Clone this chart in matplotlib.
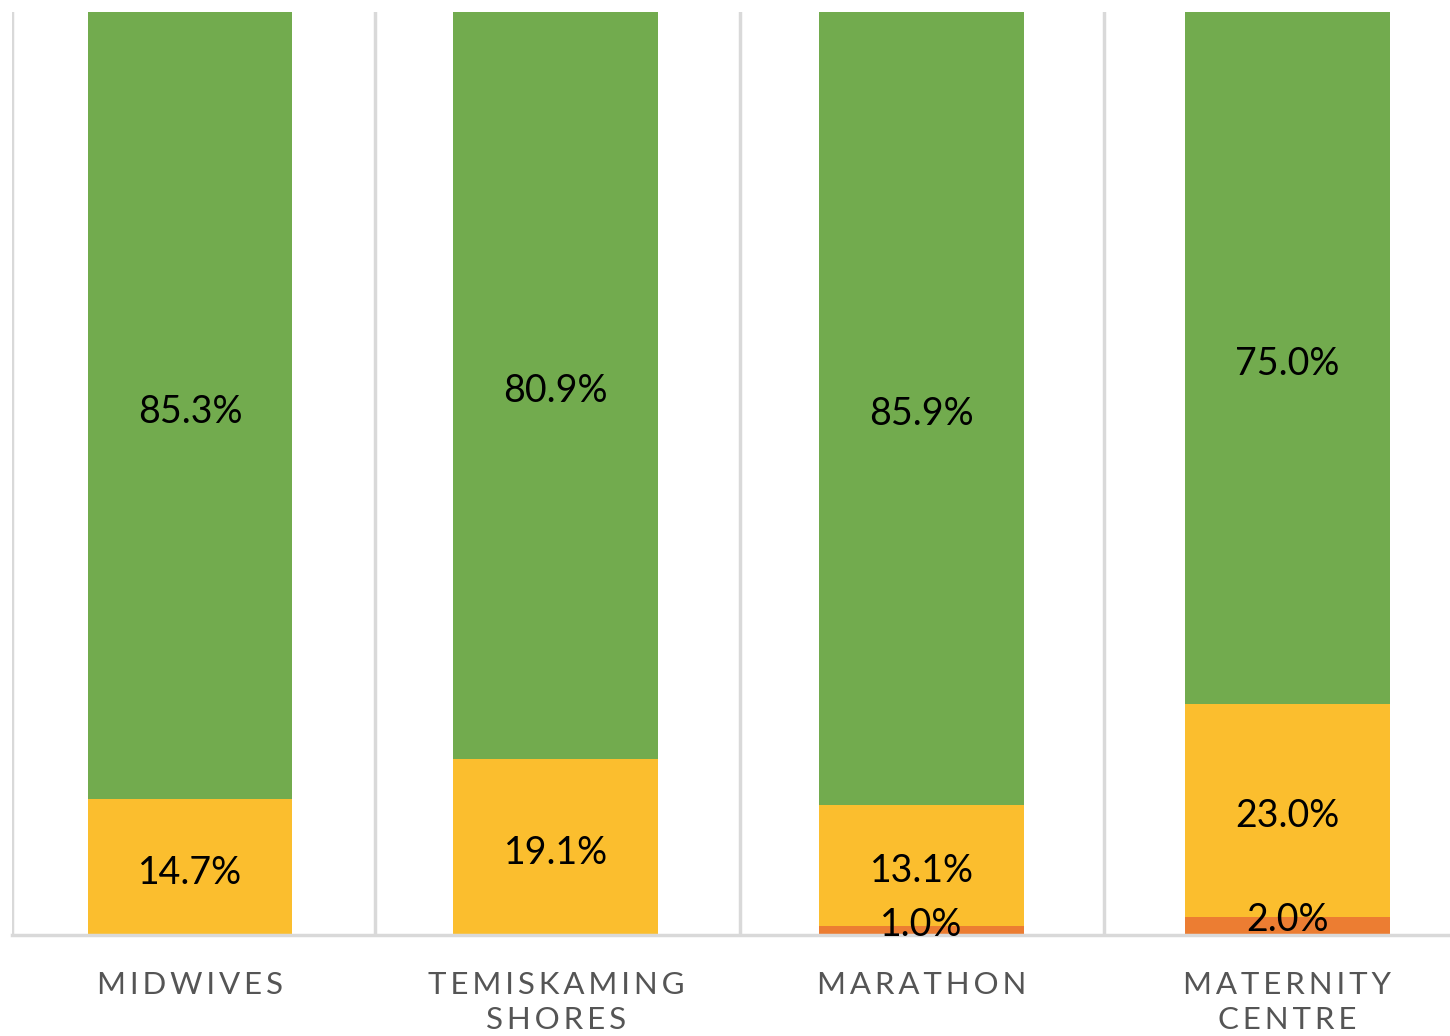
import numpy as np
import matplotlib.pyplot as plt
from matplotlib.transforms import offset_copy

categories = ["MIDWIVES", "TEMISKAMING\nSHORES", "MARATHON", "MATERNITY\nCENTRE"]
orange_vals = [0.0, 0.0, 1.0, 2.0]
yellow_vals = [14.7, 19.1, 13.1, 23.0]
green_vals = [85.3, 80.9, 85.9, 75.0]

colors = {"orange": "#EC7D32", "yellow": "#FBBE2E", "green": "#72AB4E"}


def spaced(s):
    # fake letter spacing
    return "\n".join("\u2009".join(line) for line in s.split("\n"))


fig = plt.figure(figsize=(14.5, 10.36), dpi=100)
ax = fig.add_axes([12 / 1450, 1 - 935 / 1036, 1438 / 1450, (935 - 12) / 1036])

x = np.arange(len(categories))
width = 0.56
orange = np.array(orange_vals)
yellow = np.array(yellow_vals)
green = np.array(green_vals)

ax.bar(x, orange, width, color=colors["orange"], zorder=2)
ax.bar(x, yellow, width, bottom=orange, color=colors["yellow"], zorder=2)
ax.bar(x, green, width, bottom=orange + yellow, color=colors["green"], zorder=2)

font = ["Lato", "DejaVu Sans"]
lbl = dict(ha="center", va="center", fontsize=27, family=font, color="black", zorder=3)
shifted = offset_copy(ax.transData, fig=fig, y=-6, units="dots")
for i in range(len(categories)):
    if orange[i] > 0:
        ax.text(x[i], orange[i] / 2 + 0.6, f"{orange[i]:.1f}%", **lbl)
    ax.text(x[i], orange[i] + yellow[i] / 2, f"{yellow[i]:.1f}%", transform=shifted, **lbl)
    ax.text(x[i], orange[i] + yellow[i] + green[i] / 2, f"{green[i]:.1f}%", transform=shifted, **lbl)

x_left = -0.487
ax.set_xlim(x_left, x_left + 1438 / 365.7)
ax.set_ylim(0, 100)

# category separators
for b in [x_left, 0.505, 1.505, 2.5]:
    ax.axvline(b, color="#D9D9D9", lw=2.5, zorder=1)

for side in ["top", "right", "left"]:
    ax.spines[side].set_visible(False)
ax.spines["bottom"].set_color("#D9D9D9")
ax.spines["bottom"].set_linewidth(2.5)

ax.set_yticks([])
ax.set_xticks(x)
ax.set_xticklabels([spaced(c) for c in categories], fontsize=22.5, family=font,
                   color="#555555", linespacing=1.3)
ax.tick_params(axis="x", length=0, pad=26)

fig.savefig("out.png", dpi=100)
